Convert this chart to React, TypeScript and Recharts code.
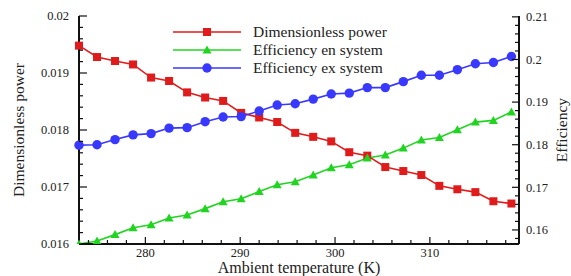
import React from "react";
import { LineChart, Line, XAxis, YAxis, Legend, Label } from "recharts";

// ambient temperature (K) at each marker
const temperature = [
  273.0, 274.9, 276.8, 278.7, 280.6, 282.5, 284.4, 286.3, 288.2, 290.1, 292.0, 293.9,
  295.8, 297.7, 299.6, 301.5, 303.4, 305.3, 307.2, 309.1, 311.0, 312.9, 314.8, 316.7, 318.6,
];

const dimensionlessPower = [
  0.01948, 0.01928, 0.01921, 0.01915, 0.01892, 0.01886, 0.01866, 0.01857, 0.01851, 0.0183,
  0.01822, 0.01814, 0.01795, 0.01788, 0.0178, 0.01761, 0.01755, 0.01735, 0.01728, 0.01721,
  0.01702, 0.01696, 0.01691, 0.01675, 0.01671,
];

const efficiencyEn = [
  0.1567, 0.1574, 0.1589, 0.1605, 0.1612, 0.1628, 0.1635, 0.165, 0.1666, 0.1673, 0.169,
  0.1706, 0.1713, 0.1729, 0.1746, 0.1753, 0.1769, 0.1776, 0.1792, 0.1811, 0.1817, 0.1835,
  0.1853, 0.1857, 0.1877,
];

const efficiencyEx = [
  0.1799, 0.18, 0.1812, 0.1823, 0.1826, 0.1839, 0.184, 0.1854, 0.1865, 0.1866, 0.1879,
  0.1893, 0.1896, 0.1907, 0.1919, 0.1921, 0.1934, 0.1934, 0.1948, 0.1963, 0.1963, 0.1976,
  0.199, 0.1993, 0.2007,
];

const xMajor = [280, 290, 300, 310];
const leftMajor = [0.016, 0.017, 0.018, 0.019, 0.02];
const rightMajor = [0.16, 0.17, 0.18, 0.19, 0.2, 0.21];

const series = [
  { key: "power", name: "Dimensionless power", color: "#e01b1b", shape: "square", axis: "left" },
  { key: "en", name: "Efficiency en system", color: "#22d422", shape: "triangle", axis: "right" },
  { key: "ex", name: "Efficiency ex system", color: "#3838ff", shape: "circle", axis: "right" },
];

const data = temperature.map((t, i) => ({
  t,
  power: dimensionlessPower[i],
  en: efficiencyEn[i],
  ex: efficiencyEx[i],
}));

// minor + major tick positions
const xTicks: number[] = [];
for (let k = 274; k <= 318; k += 2) xTicks.push(k);
const leftTicks: number[] = [];
for (let k = 80; k <= 100; k++) leftTicks.push(+(k * 0.0002).toFixed(4));
const rightTicks: number[] = [];
for (let k = 79; k <= 105; k++) rightTicks.push(+(k * 0.002).toFixed(3));

const isMajor = (v: number, majors: number[], eps: number) =>
  majors.some((m) => Math.abs(m - v) < eps);

const font = "Liberation Serif, Tinos, DejaVu Serif, serif";
const ink = "#111";

function Marker({ cx, cy, shape, color }: any) {
  if (cx == null || cy == null) return null;
  if (shape === "square")
    return <rect x={cx - 4} y={cy - 4} width={8} height={8} fill={color} />;
  if (shape === "triangle")
    return (
      <polygon
        points={`${cx},${cy - 4.5} ${cx - 4.5},${cy + 3.5} ${cx + 4.5},${cy + 3.5}`}
        fill={color}
      />
    );
  return <circle cx={cx} cy={cy} r={4.7} fill={color} />;
}

function BottomTick(props: any) {
  const { x, y, payload } = props;
  const major = isMajor(payload.value, xMajor, 0.1);
  const ay = y - 4;
  return (
    <g>
      <line x1={x} x2={x} y1={ay} y2={ay - (major ? 7 : 4)} stroke={ink} strokeWidth={1.2} />
      {major && (
        <text x={x} y={y} dy="0.71em" textAnchor="middle" style={{ fontFamily: font }} fontSize={12.5} fill="#222">
          {payload.value}
        </text>
      )}
    </g>
  );
}

function LeftTick(props: any) {
  const { x, y, payload } = props;
  const major = isMajor(payload.value, leftMajor, 0.00002);
  const ax = x + 10;
  return (
    <g>
      <line x1={ax} x2={ax + (major ? 8 : 4)} y1={y} y2={y} stroke={ink} strokeWidth={1.2} />
      {major && (
        <text x={x} y={y} dy="0.35em" textAnchor="end" style={{ fontFamily: font }} fontSize={12.5} fill="#222">
          {String(payload.value)}
        </text>
      )}
    </g>
  );
}

function RightTick(props: any) {
  const { x, y, payload } = props;
  const major = isMajor(payload.value, rightMajor, 0.0002);
  const ax = x - 7;
  return (
    <g>
      <line x1={ax} x2={ax - (major ? 7 : 4)} y1={y} y2={y} stroke={ink} strokeWidth={1.2} />
      {major && (
        <text x={x} y={y} dy="0.35em" textAnchor="start" style={{ fontFamily: font }} fontSize={12.5} fill="#222">
          {String(payload.value)}
        </text>
      )}
    </g>
  );
}

function LegendBox() {
  return (
    <div style={{ fontFamily: font, fontSize: 15.5, color: "#222" }}>
      {series.map((s) => (
        <div key={s.key} style={{ display: "flex", alignItems: "center", height: 18.2 }}>
          <svg width={70} height={18} style={{ display: "block" }}>
            <line x1={1} x2={69} y1={9} y2={9} stroke={s.color} strokeWidth={1.6} />
            <Marker cx={35} cy={9} shape={s.shape} color={s.color} />
          </svg>
          <span style={{ marginLeft: 11, whiteSpace: "nowrap", lineHeight: "18px" }}>{s.name}</span>
        </div>
      ))}
    </div>
  );
}

export default function App() {
  return (
    <div style={{ position: "absolute", left: 0, top: 0, width: 571, height: 276, background: "#fff" }}>
      <LineChart width={571} height={276} data={data} margin={{ top: 16, right: 0, left: 0, bottom: 0 }}>
        <XAxis
          dataKey="t"
          type="number"
          domain={[273, 319.4]}
          ticks={xTicks}
          interval={0}
          height={32}
          tickSize={0}
          tickMargin={4}
          tick={<BottomTick />}
          tickLine={false}
          axisLine={{ stroke: ink, strokeWidth: 2 }}
        >
          <Label
            content={({ viewBox }: any) => (
              <text
                x={viewBox.x + viewBox.width / 2}
                y={viewBox.y + 23}
                dy="0.35em"
                textAnchor="middle"
                style={{ fontFamily: font }}
                fontSize={16}
                fill="#222"
              >
                Ambient temperature (K)
              </text>
            )}
          />
        </XAxis>
        <XAxis
          xAxisId="top"
          dataKey="t"
          type="number"
          orientation="top"
          domain={[273, 319.4]}
          height={0}
          tick={false}
          tickLine={false}
          axisLine={{ stroke: "#333", strokeWidth: 1.6 }}
        />
        <YAxis
          yAxisId="left"
          orientation="left"
          domain={[0.016, 0.02]}
          ticks={leftTicks}
          interval={0}
          width={79}
          tickSize={0}
          tickMargin={10}
          tick={<LeftTick />}
          tickLine={false}
          axisLine={{ stroke: ink, strokeWidth: 2 }}
        >
          <Label
            content={({ viewBox }: any) => {
              const cx = viewBox.x + 19;
              const cy = viewBox.y + viewBox.height / 2;
              return (
                <text
                  x={cx}
                  y={cy}
                  dy="0.35em"
                  textAnchor="middle"
                  transform={`rotate(-90, ${cx}, ${cy})`}
                  style={{ fontFamily: font }}
                  fontSize={15.5}
                  fill="#222"
                >
                  Dimensionless power
                </text>
              );
            }}
          />
        </YAxis>
        <YAxis
          yAxisId="right"
          orientation="right"
          domain={[0.1567, 0.2102]}
          ticks={rightTicks}
          interval={0}
          width={52}
          tickSize={0}
          tickMargin={7}
          tick={<RightTick />}
          tickLine={false}
          allowDataOverflow
          axisLine={{ stroke: ink, strokeWidth: 2 }}
        >
          <Label
            content={({ viewBox }: any) => {
              const cx = viewBox.x + 43;
              const cy = viewBox.y + viewBox.height / 2;
              return (
                <text
                  x={cx}
                  y={cy}
                  dy="0.35em"
                  textAnchor="middle"
                  transform={`rotate(-90, ${cx}, ${cy})`}
                  style={{ fontFamily: font }}
                  fontSize={15.5}
                  fill="#222"
                >
                  Efficiency
                </text>
              );
            }}
          />
        </YAxis>
        <Legend
          layout="vertical"
          align="center"
          verticalAlign="middle"
          content={() => <LegendBox />}
          wrapperStyle={{ position: "absolute", left: 172, top: 22.6, width: 260, height: 56 }}
        />
        {series.map((s) => (
          <Line
            key={s.key}
            yAxisId={s.axis}
            dataKey={s.key}
            name={s.name}
            type="linear"
            stroke={s.color}
            strokeWidth={1.6}
            isAnimationActive={false}
            activeDot={false}
            dot={(p: any) => <Marker key={`${s.key}-${p.index}`} cx={p.cx} cy={p.cy} shape={s.shape} color={s.color} />}
          />
        ))}
      </LineChart>
    </div>
  );
}
